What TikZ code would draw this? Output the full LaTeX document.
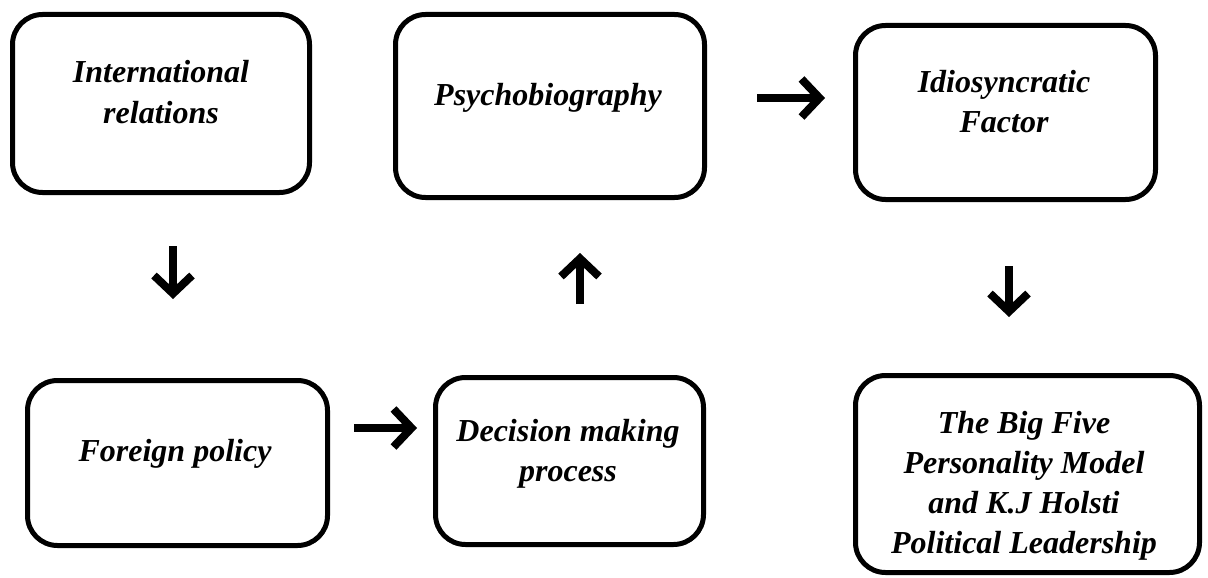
\documentclass[tikz,border=0pt]{standalone}
\usepackage{fontspec}
\setmainfont{Liberation Serif}
\usetikzlibrary{arrows.meta}
\tikzset{
  boxnode/.style={draw=black, line width=5pt, rounded corners=30pt, inner sep=0pt, fill=white},
  lbl/.style={font=\fontsize{32}{40}\selectfont\bfseries\itshape, align=center, anchor=base, inner sep=0pt},
  arr/.style={line width=8pt, -{Straight Barb[length=18pt,width=38pt]}}
}
\begin{document}
\begin{tikzpicture}[x=1pt,y=-1pt]
\useasboundingbox[fill=white] (0,0) rectangle (1208,578);
% boxes
\node[boxnode, minimum width=297pt, minimum height=178pt] (b1) at (161,103.5) {};
\node[boxnode, minimum width=309pt, minimum height=183pt] (b2) at (550,106) {};
\node[boxnode, minimum width=300pt, minimum height=174pt] (b3) at (1005.5,112.5) {};
\node[boxnode, minimum width=300pt, minimum height=165pt] (b4) at (177.5,463) {};
\node[boxnode, minimum width=268pt, minimum height=167pt] (b5) at (569.5,461) {};
\node[boxnode, minimum width=344pt, minimum height=197pt] (b6) at (1027.5,474) {};
% texts (anchor base = baseline of the last line)
\node[lbl] (t1) at (161,123) {International\\relations};
\node[lbl] (t2) at (548,105) {Psychobiography};
\node[lbl] (t3) at (1004,132) {Idiosyncratic\\Factor};
\node[lbl] (t4) at (175,461) {Foreign policy};
\node[lbl] (t5) at (568,481) {Decision making\\process};
\node[lbl] (t6) at (1024,553) {The Big Five\\Personality Model\\and K.J Holsti\\Political Leadership};
% arrow end points
\coordinate (a1s) at (173,246);
\coordinate (a1e) at (173,299);
\coordinate (a2s) at (580,304);
\coordinate (a2e) at (580,253);
\coordinate (a3s) at (757,98);
\coordinate (a3e) at (825,98);
\coordinate (a4s) at (1009,266);
\coordinate (a4e) at (1009,317);
\coordinate (a5s) at (354,428);
\coordinate (a5e) at (417,428);
\draw[arr] (a1s) -- (a1e);
\draw[arr] (a2s) -- (a2e);
\draw[arr] (a3s) -- (a3e);
\draw[arr] (a4s) -- (a4e);
\draw[arr] (a5s) -- (a5e);
\end{tikzpicture}
\end{document}
